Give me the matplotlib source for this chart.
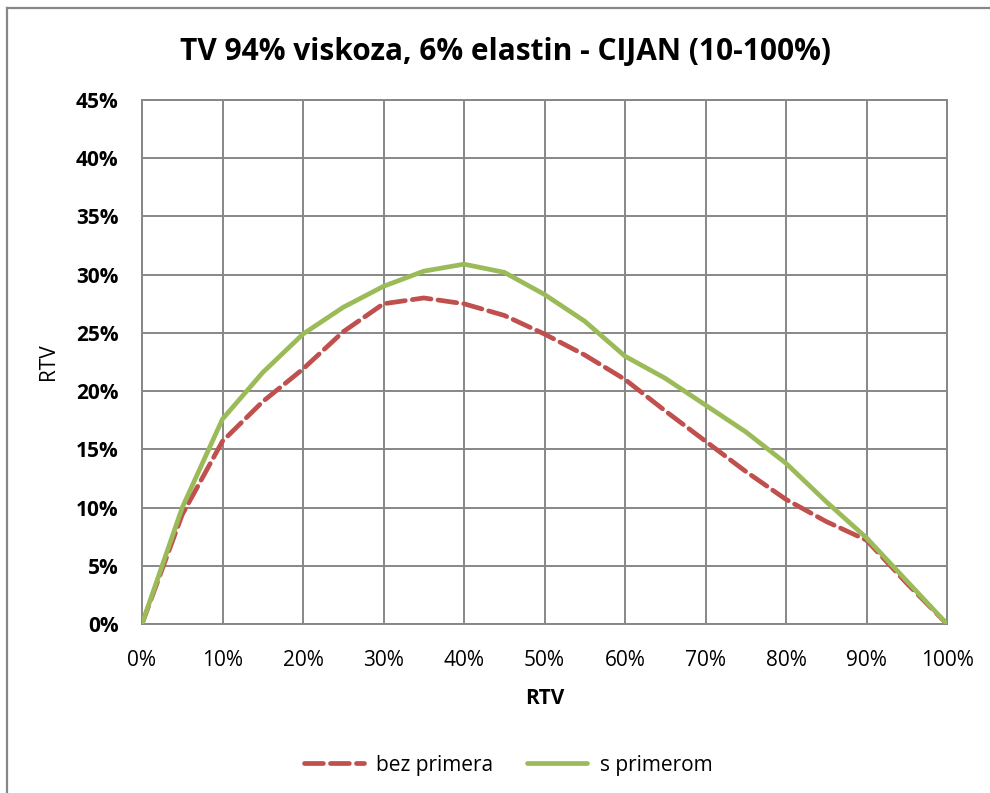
import matplotlib
matplotlib.use("Agg")
import matplotlib.pyplot as plt
from matplotlib.lines import Line2D
from matplotlib.ticker import PercentFormatter, MultipleLocator

x_vals = [0, 5, 10, 15, 20, 25, 30, 35, 40, 45, 50, 55, 60, 65, 70, 75, 80, 85, 90, 95, 100]
bez_primera = [0, 9.4, 15.7, 19.1, 21.9, 25.1, 27.5, 28.0, 27.5, 26.5, 24.9, 23.1, 21.0, 18.3, 15.7, 13.1, 10.7, 8.8, 7.2, 3.5, 0]
s_primerom = [0, 10.0, 17.6, 21.6, 24.9, 27.2, 29.0, 30.3, 30.9, 30.2, 28.3, 26.0, 23.0, 21.1, 18.8, 16.5, 13.8, 10.5, 7.4, 3.7, 0]

title = "TV 94% viskoza, 6% elastin - CIJAN (10-100%)"
x_label = "RTV"
y_label = "RTV"
series_names = ["bez primera", "s primerom"]

plt.rcParams['font.family'] = ['Open Sans', 'DejaVu Sans']

fig = plt.figure(figsize=(9.9, 7.93), dpi=100)
ax = fig.add_axes([142/990, 1-624/793, (947-142)/990, (624-100)/793])

grid_c = "#878787"
lw = 3.4
ax.plot(x_vals, bez_primera, color="#C0504D", lw=lw, dashes=(4, 1.5),
        dash_capstyle="round", solid_capstyle="round", zorder=3)
ax.plot(x_vals, s_primerom, color="#9BBB59", lw=lw, solid_capstyle="round", zorder=4)

ax.set_xlim(0, 100)
ax.set_ylim(0, 45)
ax.xaxis.set_major_locator(MultipleLocator(10))
ax.yaxis.set_major_locator(MultipleLocator(5))
ax.xaxis.set_major_formatter(PercentFormatter(decimals=0))
ax.yaxis.set_major_formatter(PercentFormatter(decimals=0))
ax.grid(True, color=grid_c, lw=1.4)
ax.set_axisbelow(True)
for s in ax.spines.values():
    s.set_color(grid_c)
    s.set_linewidth(1.4)
ax.tick_params(axis="both", length=0, colors="black")
ax.tick_params(axis="x", labelsize=15, pad=19)
ax.tick_params(axis="y", labelsize=15, pad=17)
for lab in ax.get_yticklabels():
    lab.set_fontweight("bold")

ax.set_xlabel(x_label, fontsize=15, fontweight="bold", labelpad=12)
ax.set_ylabel(y_label, fontsize=15, labelpad=12)

fig.text(506/990, 1 - 52/793, title, ha="center", va="center",
         fontsize=21.5, fontweight="bold")

handles = [Line2D([], [], color="#C0504D", lw=lw, dashes=(4, 1.5), dash_capstyle="round"),
           Line2D([], [], color="#9BBB59", lw=lw, solid_capstyle="round")]
fig.legend(handles, series_names, loc="center", bbox_to_anchor=(508/990, 1 - 765/793),
           ncol=2, frameon=False, fontsize=15, handlelength=2.9, columnspacing=1.6,
           handletextpad=0.6)

# outer chart border (left and top)
fig.add_artist(Line2D([7/990, 7/990], [0, 1 - 8/793], transform=fig.transFigure, color=grid_c, lw=1.6))
fig.add_artist(Line2D([7/990, 1], [1 - 8/793, 1 - 8/793], transform=fig.transFigure, color=grid_c, lw=1.6))

fig.savefig("out.png", dpi=100)
